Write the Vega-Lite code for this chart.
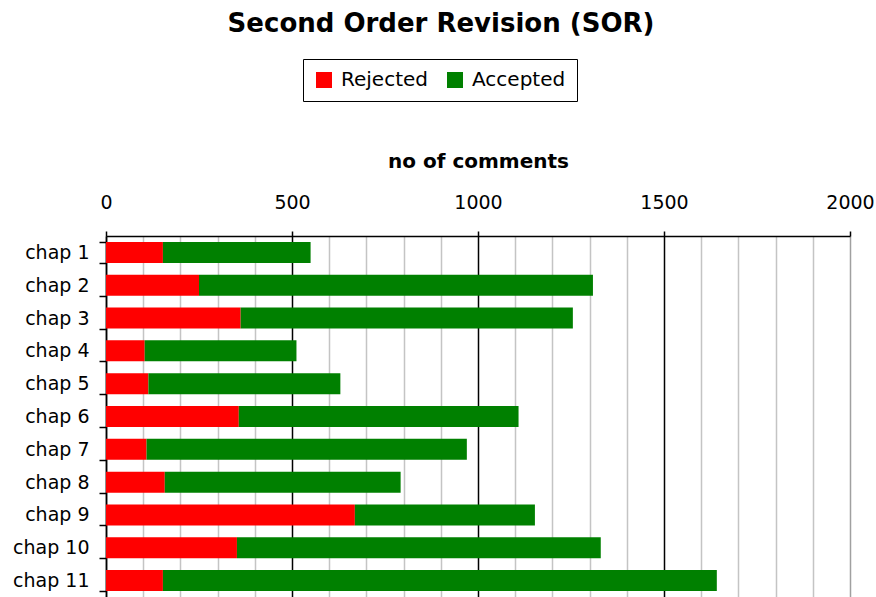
{
  "$schema": "https://vega.github.io/schema/vega-lite/v6.json",
  "autosize": {"type": "none"},
  "width": 744,
  "height": 361,
  "padding": {"left": 106, "top": 236, "right": 26, "bottom": 0},
  "background": "white",
  "config": {"view": {"stroke": null}, "font": "DejaVu Sans"},
  "title": {
    "text": "Second Order Revision (SOR)",
    "font": "DejaVu Sans",
    "fontSize": 26,
    "fontWeight": "bold",
    "color": "black",
    "anchor": "middle",
    "dx": -37,
    "offset": 22
  },
  "data": {
    "values": [
      {"chap": "chap 1", "status": "Rejected", "n": 153},
      {"chap": "chap 1", "status": "Accepted", "n": 397},
      {"chap": "chap 2", "status": "Rejected", "n": 250},
      {"chap": "chap 2", "status": "Accepted", "n": 1059},
      {"chap": "chap 3", "status": "Rejected", "n": 362},
      {"chap": "chap 3", "status": "Accepted", "n": 893},
      {"chap": "chap 4", "status": "Rejected", "n": 104},
      {"chap": "chap 4", "status": "Accepted", "n": 408},
      {"chap": "chap 5", "status": "Rejected", "n": 114},
      {"chap": "chap 5", "status": "Accepted", "n": 516},
      {"chap": "chap 6", "status": "Rejected", "n": 357},
      {"chap": "chap 6", "status": "Accepted", "n": 752},
      {"chap": "chap 7", "status": "Rejected", "n": 109},
      {"chap": "chap 7", "status": "Accepted", "n": 861},
      {"chap": "chap 8", "status": "Rejected", "n": 158},
      {"chap": "chap 8", "status": "Accepted", "n": 634},
      {"chap": "chap 9", "status": "Rejected", "n": 669},
      {"chap": "chap 9", "status": "Accepted", "n": 484},
      {"chap": "chap 10", "status": "Rejected", "n": 352},
      {"chap": "chap 10", "status": "Accepted", "n": 978},
      {"chap": "chap 11", "status": "Rejected", "n": 153},
      {"chap": "chap 11", "status": "Accepted", "n": 1489}
    ]
  },
  "mark": {"type": "bar"},
  "encoding": {
    "y": {
      "field": "chap",
      "type": "nominal",
      "sort": ["chap 1","chap 2","chap 3","chap 4","chap 5","chap 6","chap 7","chap 8","chap 9","chap 10","chap 11"],
      "scale": {"paddingInner": 0.36, "paddingOuter": 0.18},
      "axis": {
        "title": null,
        "labelFont": "DejaVu Sans",
        "labelFontSize": 19,
        "labelColor": "black",
        "labelPadding": 10,
        "ticks": true,
        "tickBand": "extent",
        "tickSize": 7,
        "tickColor": "black",
        "tickWidth": 1.5,
        "domainColor": "black",
        "domainWidth": 1.5,
        "grid": false
      }
    },
    "x": {
      "field": "n",
      "type": "quantitative",
      "stack": "zero",
      "scale": {"domain": [0, 2000], "nice": false},
      "axis": {
        "orient": "top",
        "title": "no of comments",
        "titleFont": "DejaVu Sans",
        "titleFontSize": 20,
        "titleFontWeight": "bold",
        "titleColor": "black",
        "titlePadding": 22,
        "values": [0,100,200,300,400,500,600,700,800,900,1000,1100,1200,1300,1400,1500,1600,1700,1800,1900,2000],
        "labelExpr": "datum.value % 500 === 0 ? datum.label : ''",
        "format": "d",
        "labelFont": "DejaVu Sans",
        "labelFontSize": 19,
        "labelColor": "black",
        "labelPadding": 19,
        "labelFlush": false,
        "labelOverlap": false,
        "tickSize": 5,
        "tickWidth": 1.5,
        "tickColor": {"condition": {"test": "datum.value % 500 === 0", "value": "black"}, "value": "transparent"},
        "domainColor": "black",
        "domainWidth": 1.5,
        "grid": true,
        "gridWidth": 1.5,
        "gridOpacity": 1,
        "gridColor": {"condition": [{"test": "datum.value === 2000", "value": "#a0a0a0"}, {"test": "datum.value % 500 === 0", "value": "black"}], "value": "#c4c4c4"}
      }
    },
    "color": {
      "field": "status",
      "type": "nominal",
      "scale": {"domain": ["Rejected", "Accepted"], "range": ["#ff0000", "#008000"]},
      "legend": {
        "orient": "none",
        "legendX": 197,
        "legendY": -177,
        "direction": "horizontal",
        "title": null,
        "strokeColor": "black",
        "fillColor": "white",
        "padding": 11,
        "symbolType": "square",
        "symbolSize": 256,
        "symbolStrokeWidth": 0,
        "labelFont": "DejaVu Sans",
        "labelFontSize": 20,
        "labelColor": "black",
        "labelOffset": 7,
        "columnPadding": 16
      }
    },
    "order": {"field": "status", "sort": "descending"}
  }
}
